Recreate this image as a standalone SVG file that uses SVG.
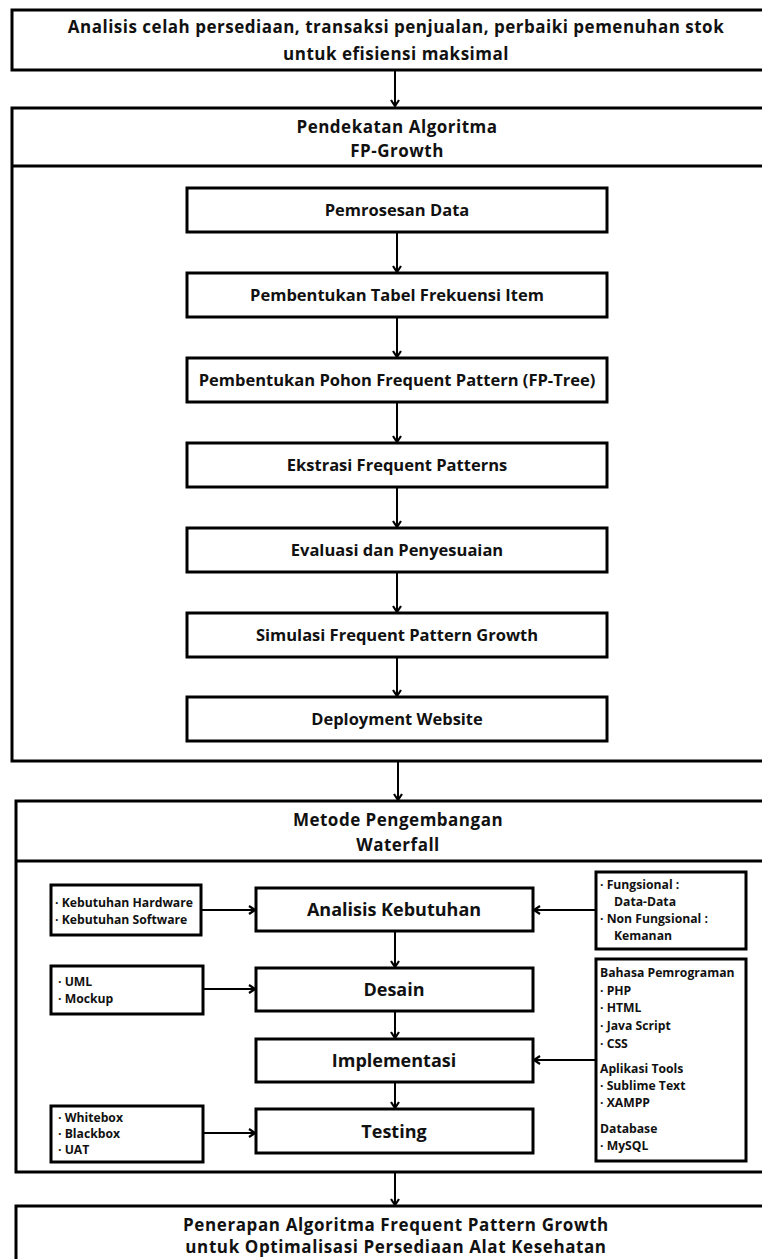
<svg xmlns="http://www.w3.org/2000/svg" width="762" height="1259" viewBox="0 0 762 1259">
<defs>
<style>
.box{fill:#fff;stroke:#000;stroke-width:3}
.ln{stroke:#000;stroke-width:2;fill:none}
.hd{font-family:"Open Sans","Liberation Sans",sans-serif;font-weight:700;font-size:17px;letter-spacing:0.5px;fill:#111;text-anchor:middle}
.st{font-family:"Open Sans","Liberation Sans",sans-serif;font-weight:700;font-size:16.5px;fill:#111;text-anchor:middle}
.md{font-family:"Open Sans","Liberation Sans",sans-serif;font-weight:700;font-size:18px;fill:#111;text-anchor:middle}
.sm{font-family:"Open Sans","Liberation Sans",sans-serif;font-weight:700;font-size:12.2px;fill:#111}
.fn{font-family:"Open Sans","Liberation Sans",sans-serif;font-weight:700;font-size:17px;letter-spacing:0.6px;fill:#111;text-anchor:middle}
</style>
<marker id="ah" markerWidth="10" markerHeight="10" refX="8" refY="5" orient="auto" markerUnits="userSpaceOnUse">
<path d="M2,1 L8,5 L2,9" fill="none" stroke="#000" stroke-width="2.2"/>
</marker>
</defs>

<g id="top">
<rect class="box" x="12" y="10" width="760" height="60"/>
<text class="hd" x="396" y="33">Analisis celah persediaan, transaksi penjualan, perbaiki pemenuhan stok</text>
<text class="hd" x="396" y="60">untuk efisiensi maksimal</text>
</g>

<g id="fpgrowth">
<rect class="box" x="12" y="108" width="760" height="653"/>
<line class="ln" x1="12" y1="166" x2="772" y2="166" style="stroke-width:3"/>
<text class="hd" x="397" y="133">Pendekatan Algoritma</text>
<text class="hd" x="397" y="157">FP-Growth</text>
</g>

<g id="fp1"><rect class="box" x="187" y="188" width="420" height="44"/><text class="st" x="397" y="216">Pemrosesan Data</text></g>
<g id="fp2"><rect class="box" x="187" y="273" width="420" height="44"/><text class="st" x="397" y="301">Pembentukan Tabel Frekuensi Item</text></g>
<g id="fp3"><rect class="box" x="187" y="358" width="420" height="44"/><text class="st" x="397" y="386">Pembentukan Pohon Frequent Pattern (FP-Tree)</text></g>
<g id="fp4"><rect class="box" x="187" y="443" width="420" height="44"/><text class="st" x="397" y="471">Ekstrasi Frequent Patterns</text></g>
<g id="fp5"><rect class="box" x="187" y="528" width="420" height="44"/><text class="st" x="397" y="556">Evaluasi dan Penyesuaian</text></g>
<g id="fp6"><rect class="box" x="187" y="613" width="420" height="44"/><text class="st" x="397" y="641">Simulasi Frequent Pattern Growth</text></g>
<g id="fp7"><rect class="box" x="187" y="697" width="420" height="44"/><text class="st" x="397" y="725">Deployment Website</text></g>

<g id="waterfall">
<rect class="box" x="16" y="801" width="756" height="371"/>
<line class="ln" x1="16" y1="861" x2="772" y2="861" style="stroke-width:3"/>
<text class="hd" x="398" y="826">Metode Pengembangan</text>
<text class="hd" x="398" y="851">Waterfall</text>
</g>

<g id="analisis"><rect class="box" x="256" y="888" width="277" height="43"/><text class="md" x="394" y="916">Analisis Kebutuhan</text></g>
<g id="desain"><rect class="box" x="256" y="968" width="277" height="43"/><text class="md" x="394" y="996">Desain</text></g>
<g id="implementasi"><rect class="box" x="256" y="1039" width="277" height="43"/><text class="md" x="394" y="1067">Implementasi</text></g>
<g id="testing"><rect class="box" x="256" y="1109" width="277" height="44"/><text class="md" x="394" y="1138">Testing</text></g>

<g id="kebutuhan"><rect class="box" x="51" y="885" width="150" height="50"/>
<text class="sm" x="55" y="907">· Kebutuhan Hardware</text>
<text class="sm" x="55" y="924">· Kebutuhan Software</text></g>
<g id="uml"><rect class="box" x="51" y="966" width="152" height="48"/>
<text class="sm" x="58" y="986">· UML</text>
<text class="sm" x="58" y="1003">· Mockup</text></g>
<g id="whitebox"><rect class="box" x="51" y="1106" width="152" height="56"/>
<text class="sm" x="58" y="1122">· Whitebox</text>
<text class="sm" x="58" y="1138">· Blackbox</text>
<text class="sm" x="58" y="1154">· UAT</text></g>

<g id="fungsional"><rect class="box" x="596" y="872" width="150" height="77"/>
<text class="sm" x="600" y="889">· Fungsional :</text>
<text class="sm" x="614" y="906">Data-Data</text>
<text class="sm" x="600" y="923">· Non Fungsional :</text>
<text class="sm" x="614" y="940">Kemanan</text></g>

<g id="tools"><rect class="box" x="596" y="959" width="150" height="202"/>
<text class="sm" x="600" y="977">Bahasa Pemrograman</text>
<text class="sm" x="600" y="995">· PHP</text>
<text class="sm" x="600" y="1012">· HTML</text>
<text class="sm" x="600" y="1030">· Java Script</text>
<text class="sm" x="600" y="1048">· CSS</text>
<text class="sm" x="600" y="1073">Aplikasi Tools</text>
<text class="sm" x="600" y="1090">· Sublime Text</text>
<text class="sm" x="600" y="1107">· XAMPP</text>
<text class="sm" x="600" y="1133">Database</text>
<text class="sm" x="600" y="1150">· MySQL</text></g>

<g id="final">
<rect class="box" x="16" y="1206" width="756" height="70"/>
<text class="fn" x="396" y="1231">Penerapan Algoritma Frequent Pattern Growth</text>
<text class="fn" x="396" y="1253">untuk Optimalisasi Persediaan Alat Kesehatan</text>
</g>

<g id="connectors">
<line class="ln" x1="395" y1="71" x2="395" y2="106" marker-end="url(#ah)"/>
<line class="ln" x1="397" y1="233" x2="397" y2="272" marker-end="url(#ah)"/>
<line class="ln" x1="397" y1="318" x2="397" y2="357" marker-end="url(#ah)"/>
<line class="ln" x1="397" y1="403" x2="397" y2="442" marker-end="url(#ah)"/>
<line class="ln" x1="397" y1="488" x2="397" y2="527" marker-end="url(#ah)"/>
<line class="ln" x1="397" y1="573" x2="397" y2="612" marker-end="url(#ah)"/>
<line class="ln" x1="397" y1="658" x2="397" y2="696" marker-end="url(#ah)"/>
<line class="ln" x1="398" y1="762" x2="398" y2="800" marker-end="url(#ah)"/>
<line class="ln" x1="395" y1="932" x2="395" y2="967" marker-end="url(#ah)"/>
<line class="ln" x1="395" y1="1012" x2="395" y2="1038" marker-end="url(#ah)"/>
<line class="ln" x1="395" y1="1083" x2="395" y2="1108" marker-end="url(#ah)"/>
<line class="ln" x1="395" y1="1173" x2="395" y2="1205" marker-end="url(#ah)"/>
<line class="ln" x1="202" y1="910" x2="255" y2="910" marker-end="url(#ah)"/>
<line class="ln" x1="204" y1="989" x2="255" y2="989" marker-end="url(#ah)"/>
<line class="ln" x1="204" y1="1133" x2="255" y2="1133" marker-end="url(#ah)"/>
<line class="ln" x1="595" y1="910" x2="534" y2="910" marker-end="url(#ah)"/>
<line class="ln" x1="595" y1="1060" x2="534" y2="1060" marker-end="url(#ah)"/>
</g>
</svg>
